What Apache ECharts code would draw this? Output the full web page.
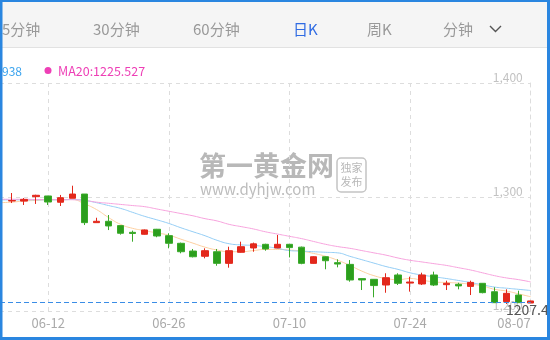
<!DOCTYPE html>
<html><head><meta charset="utf-8">
<script src="https://cdn.jsdelivr.net/npm/echarts@6/dist/echarts.min.js"></script>
<style>html,body{margin:0;padding:0;background:#fff}#c{width:550px;height:340px}</style>
</head><body><div id="c"></div>
<script>
const categories = ['06-06','06-07','06-08','06-11','06-12','06-13','06-14','06-15','06-18','06-19','06-20','06-21','06-22','06-25','06-26','06-27','06-28','06-29','07-02','07-03','07-04','07-05','07-06','07-09','07-10','07-11','07-12','07-13','07-16','07-17','07-18','07-19','07-20','07-23','07-24','07-25','07-26','07-27','07-30','07-31','08-01','08-02','08-03','08-06','08-07'];
const tickLabels = ['06-12','06-26','07-10','07-24','08-07'];
// [open, close, low, high]
const candles = ['-',
[1296.5,1296.9,1294.7,1303.5],[1296.4,1297.9,1293.0,1299.1],[1300.3,1301.5,1293.9,1302.0],[1300.9,1295.6,1293.0,1301.0],
[1295.4,1299.4,1292.1,1301.8],[1298.9,1302.6,1298.9,1309.9],[1302.6,1277.5,1275.4,1302.6],[1277.5,1278.7,1277.5,1281.8],
[1278.7,1274.6,1271.0,1284.2],[1274.9,1268.2,1267.0,1275.0],[1269.0,1268.0,1260.8,1270.5],[1267.3,1271.1,1267.0,1271.5],
[1271.7,1265.8,1264.7,1272.0],[1266.1,1259.4,1255.0,1268.2],[1259.4,1252.0,1250.6,1260.0],[1252.6,1247.6,1247.0,1254.4],
[1248.0,1252.9,1246.2,1255.0],[1252.0,1241.8,1239.7,1254.4],[1241.8,1252.9,1238.0,1256.4],[1251.5,1256.4,1251.2,1260.8],
[1255.3,1258.9,1252.0,1260.0],[1258.5,1254.4,1252.9,1259.0],[1255.3,1258.5,1255.0,1266.7],[1258.5,1255.6,1247.0,1258.5],
[1256.0,1241.8,1241.0,1256.5],[1241.8,1247.6,1241.5,1248.0],[1247.6,1244.1,1236.6,1248.0],[1242.4,1241.2,1238.3,1245.3],
[1240.9,1227.2,1225.7,1244.7],[1228.4,1227.2,1218.4,1228.7],[1227.8,1222.3,1212.0,1228.0],[1222.8,1229.2,1216.0,1233.1],
[1231.6,1224.3,1222.8,1233.1],[1224.5,1225.4,1217.0,1230.1],[1223.7,1231.6,1222.8,1233.6],[1231.6,1222.8,1221.9,1234.5],
[1223.1,1224.3,1218.4,1226.6],[1223.4,1222.0,1219.0,1224.8],[1221.6,1225.1,1214.0,1226.6],[1224.3,1216.1,1215.5,1224.5],
[1216.9,1207.3,1207.0,1220.8],[1208.2,1215.5,1206.1,1219.0],[1214.0,1207.3,1207.0,1217.8],[1207.0,1208.8,1207.0,1209.0]];
const ma5 = [1295,1295.5,1296.5,1297,1297.5,1297.5,1297.8,1294,1289,1282,1276,1272.5,1270.5,1268.5,1266.5,1263,1259.5,1256,1253.5,1252,1252,1253,1254,1254,1253.5,1252.5,1250.5,1248,1244.5,1240,1235,1231,1228.5,1227.5,1228.5,1227,1225.5,1225,1224.5,1223.5,1222,1219,1217.5,1215,1212.5];
const ma10 = [1297.5,1297.5,1297.5,1297.5,1297.5,1297.5,1297.8,1297,1295,1292.5,1290,1286.5,1283,1280,1276.8,1273,1269.5,1266,1262,1259,1258,1257.5,1256.5,1255,1253,1252.5,1252,1251.5,1251,1248,1245,1242,1239,1236.5,1233.5,1231.5,1230,1228.5,1226.8,1225,1223,1221,1220,1219,1218];
const ma20 = [1298,1298,1298,1297.8,1297.8,1297.7,1297.6,1297,1295.5,1294.5,1293.5,1292.5,1291.5,1289.5,1287.5,1285.5,1283.5,1281,1279,1276,1274,1272,1269.5,1267.5,1265.5,1263.5,1261,1258.5,1256.5,1255,1253,1251,1249,1246.5,1244.5,1243,1241.5,1240,1238,1236,1233.5,1231,1229,1227.5,1225.5];
const lastPrice = 1207.4;
const tabs = [['5分钟',2,'#999'],['30分钟',93,'#999'],['60分钟',193,'#999'],['日K',293,'#2f6be3'],['周K',367,'#999'],['分钟',443,'#999']];
const legendTexts = ['MA10:1217.938','MA20:1225.527'];

const FONT = "'Microsoft YaHei','Noto Sans CJK SC',sans-serif";
const chart = echarts.init(document.getElementById('c'));
const graphics = [
  {type:'rect', shape:{x:0,y:2,width:550,height:45}, style:{fill:'#f5f5f5'}, z:0},
  {type:'line', shape:{x1:0,y1:47.5,x2:550,y2:47.5}, style:{stroke:'#e2e2e2',lineWidth:1}},
  {type:'polyline', shape:{points:[[490,26],[495.5,31.5],[501,26]]}, style:{stroke:'#555',lineWidth:1.4,fill:null}},
  {type:'text', style:{text:legendTexts[0], x:22, y:71, align:'right', verticalAlign:'middle', fill:'#3aa3ee', font:'12px '+FONT}},
  {type:'circle', shape:{cx:48,cy:70.5,r:3.5}, style:{fill:'#ee3fb6'}},
  {type:'text', style:{text:legendTexts[1], x:58, y:71, verticalAlign:'middle', fill:'#ee3fb6', font:'12.5px '+FONT}},
  {type:'text', style:{text:'第一黄金网', x:199, y:166, verticalAlign:'middle', fill:'#b8b8b8', font:'bold 27px '+FONT}},
  {type:'text', style:{text:'www.dyhjw.com', x:200, y:189, verticalAlign:'middle', fill:'#bdbdbd', font:'15px '+FONT}},
  {type:'rect', shape:{x:337,y:158,width:29,height:34,r:4}, style:{fill:null,stroke:'#c4c4c4',lineWidth:1.5}},
  {type:'text', style:{text:'独家', x:351.5, y:168, align:'center', verticalAlign:'middle', fill:'#b8b8b8', font:'11px '+FONT}},
  {type:'text', style:{text:'发布', x:351.5, y:182, align:'center', verticalAlign:'middle', fill:'#b8b8b8', font:'11px '+FONT}},
  {type:'rect', shape:{x:0,y:0,width:550,height:2}, style:{fill:'#2a86e0'}, z:100},
  {type:'rect', shape:{x:0,y:0,width:2.5,height:340}, style:{fill:'#2a86e0'}, z:100},
  {type:'rect', shape:{x:547,y:0,width:3,height:340}, style:{fill:'#2a86e0'}, z:100},
  {type:'rect', shape:{x:0,y:337,width:550,height:3}, style:{fill:'#2a86e0'}, z:100}
];
tabs.forEach(t => graphics.push({type:'text', style:{text:t[0], x:t[1], y:29, verticalAlign:'middle', fill:t[2], font:'15px '+FONT}}));

const labelIdx = tickLabels.map(l => categories.indexOf(l));
const lineCommon = {type:'line', showSymbol:false, symbol:'none', smooth:true, lineStyle:{width:1}, clip:false, z:2};
chart.setOption({
  animation:false,
  graphic: graphics,
  grid:{left:-1.7, right:19.3, top:83, bottom:29},
  xAxis:{type:'category', data:categories, boundaryGap:false,
    axisLine:{show:false}, axisTick:{show:false},
    axisLabel:{interval:(i)=>labelIdx.includes(i), color:'#aaa', fontSize:13, fontFamily:FONT, margin:6, alignMaxLabel:'right'},
    splitLine:{show:true, interval:(i)=>labelIdx.includes(i), lineStyle:{color:'#ddd', type:[4,4]}}},
  yAxis:{type:'value', position:'right', min:1200, max:1400, interval:100,
    axisLine:{show:true, lineStyle:{color:'#ddd', type:[4,4]}}, axisTick:{show:false},
    axisLabel:{inside:true, margin:8, verticalAlign:'bottom', color:'#c2c2c2', fontSize:12, fontFamily:FONT,
      showMinLabel:true, hideOverlap:false, formatter:(v)=>v.toLocaleString('en-US')},
    splitLine:{show:true, lineStyle:{color:'#ddd', type:[4,4]}}},
  series:[
    {type:'candlestick', data:candles, barWidth:7, clip:false, z:3,
      itemStyle:{color:'#e3281c', color0:'#2b9e1d', borderColor:'#e3281c', borderColor0:'#3aaa2a', borderWidth:1},
      markLine:{symbol:'none', silent:true, animation:false,
        lineStyle:{color:'#3a8de6', type:[5,3], width:1},
        label:{show:true, position:'insideEndBottom', formatter:String(lastPrice), color:'#555', fontSize:14, fontFamily:FONT, offset:[23,-5]},
        data:[{yAxis:lastPrice}]}},
    Object.assign({name:'MA5', data:ma5, color:'#fdcf9f'}, lineCommon),
    Object.assign({name:'MA10', data:ma10, color:'#93cdf5'}, lineCommon),
    Object.assign({name:'MA20', data:ma20, color:'#f7a2dd'}, lineCommon)
  ]
});
</script></body></html>
